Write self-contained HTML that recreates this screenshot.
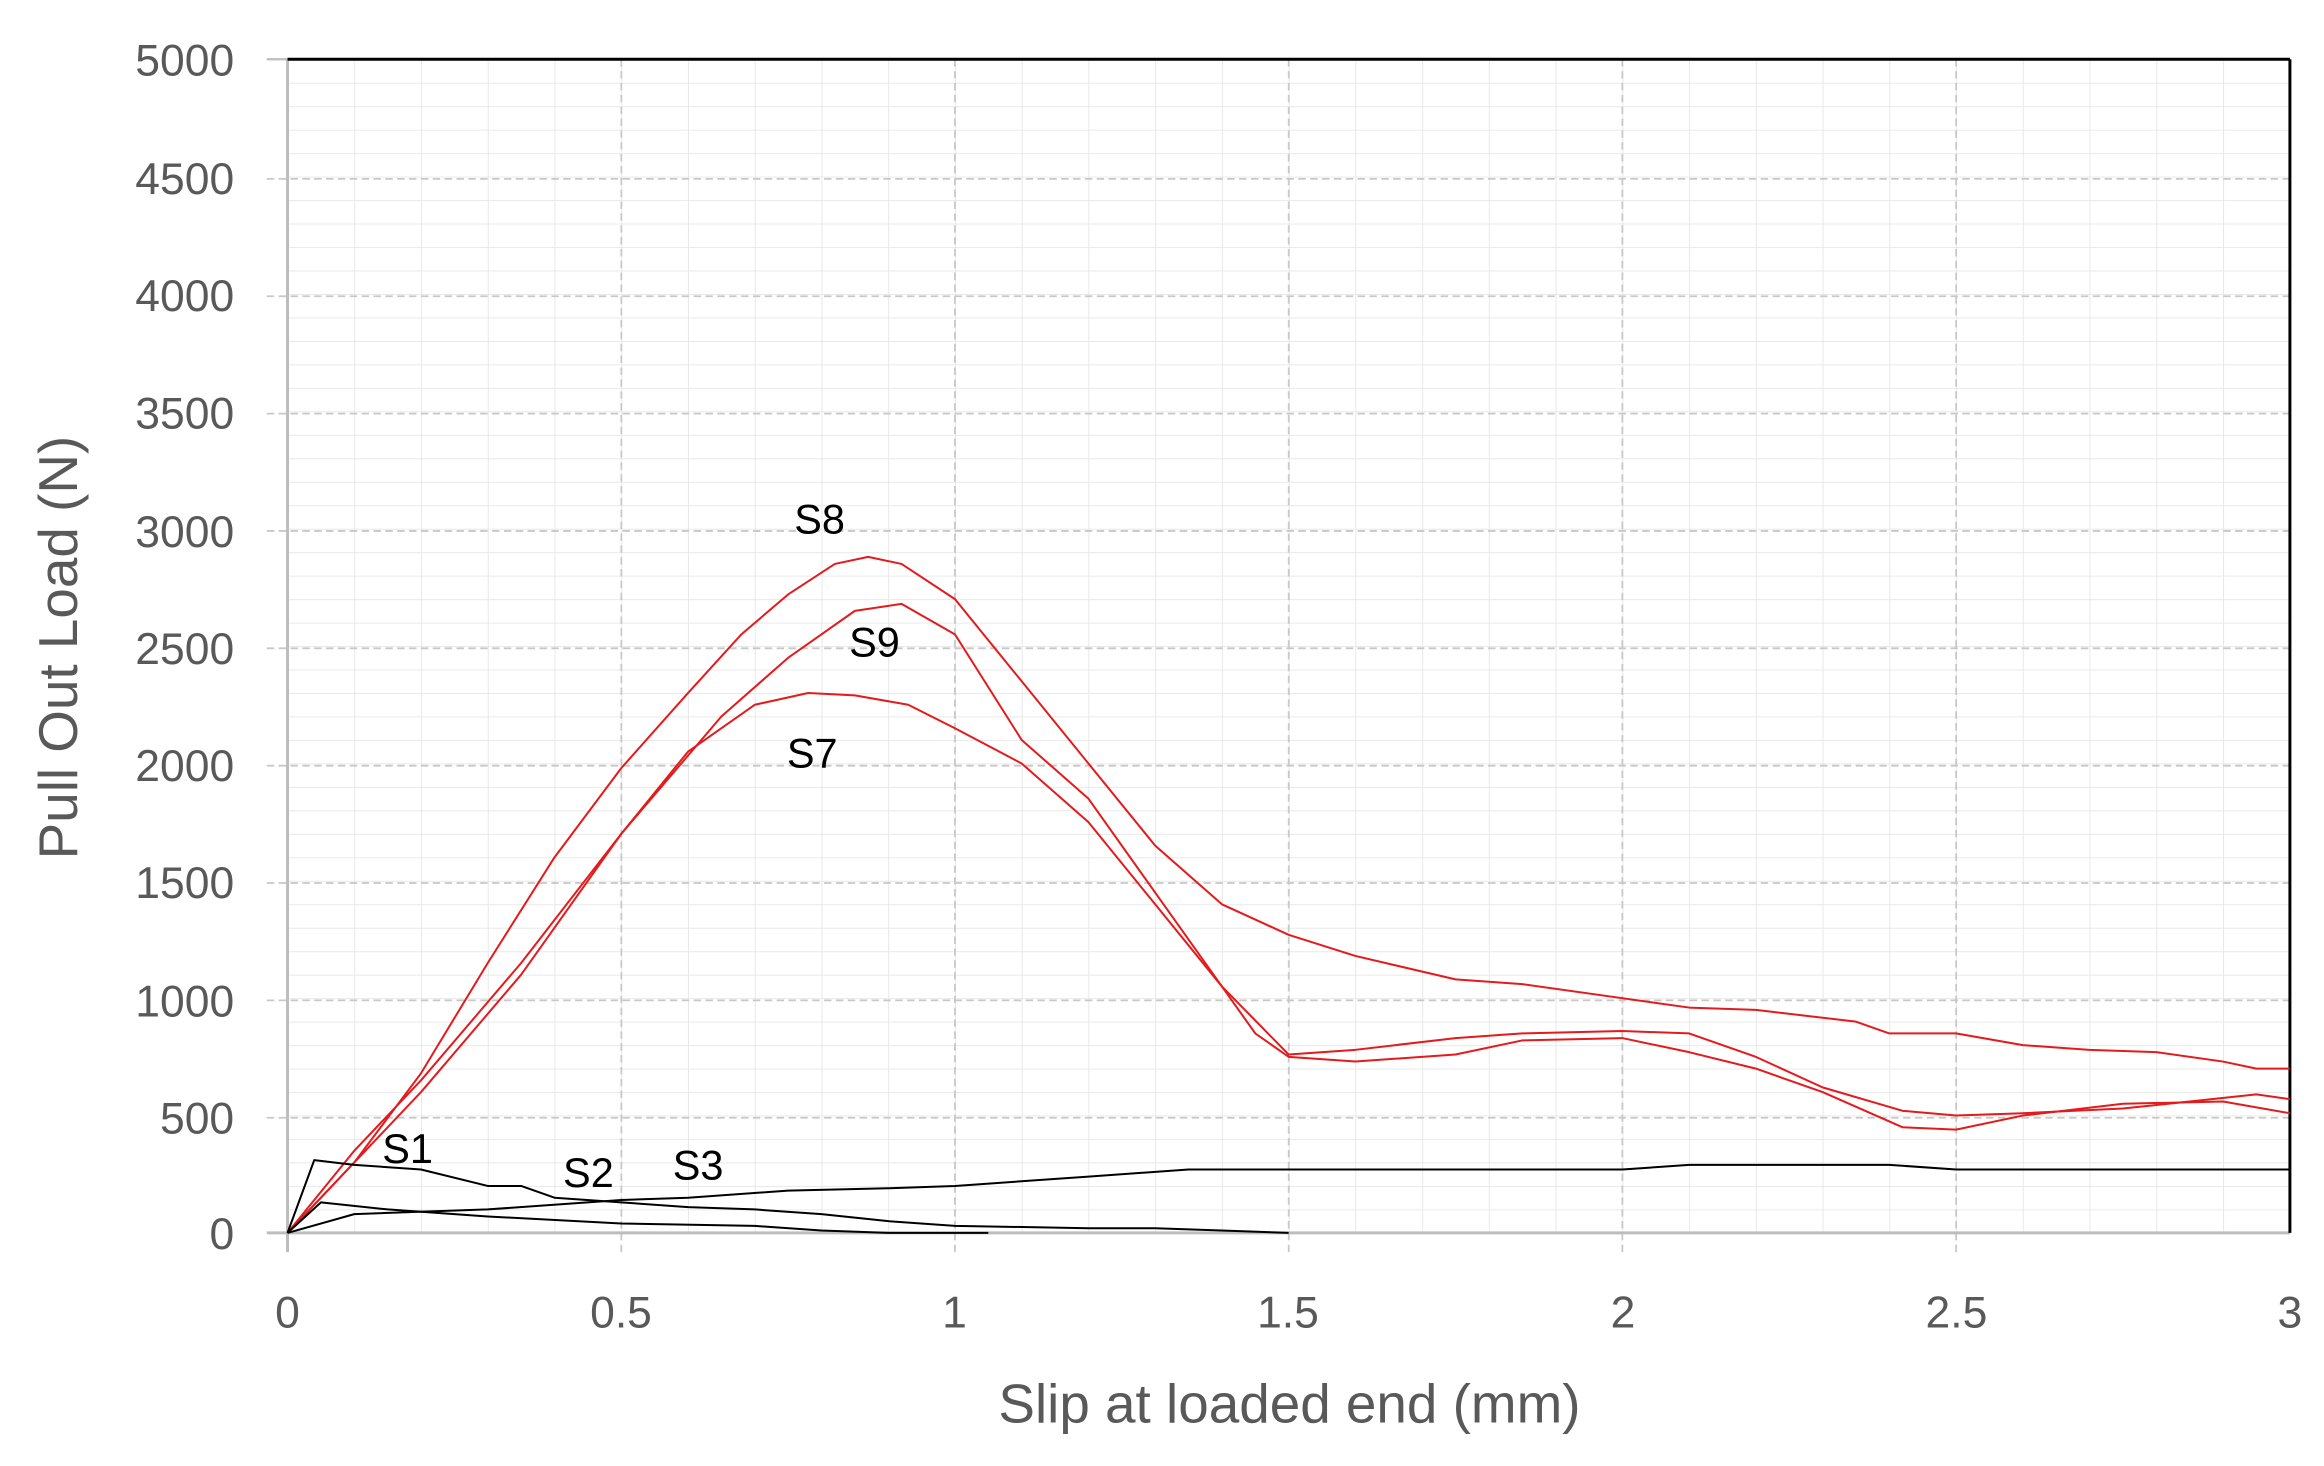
<!DOCTYPE html>
<html><head><style>html,body{margin:0;padding:0;background:#fff}svg{display:block}</style></head>
<body>
<svg width="2324" height="1466" viewBox="0 0 1568 989.3" preserveAspectRatio="none" xmlns="http://www.w3.org/2000/svg" font-family="'Liberation Sans', sans-serif">
<defs>
<pattern id="mg" x="194" y="40" width="45.03" height="15.84" patternUnits="userSpaceOnUse">
<path d="M0 0 V15.84 M0 0 H45.03" stroke="#e6e6e6" stroke-width="1.2" fill="none"/>
</pattern>
</defs>
<rect x="194" y="40" width="1351" height="792" fill="url(#mg)"/>
<g stroke="#c8c8c8" stroke-width="1.2" stroke-dasharray="5,3">
<line x1="180" x2="1545" y1="120.7" y2="120.7"/><line x1="180" x2="1545" y1="199.9" y2="199.9"/>
<line x1="180" x2="1545" y1="279.1" y2="279.1"/><line x1="180" x2="1545" y1="358.3" y2="358.3"/>
<line x1="180" x2="1545" y1="437.5" y2="437.5"/><line x1="180" x2="1545" y1="516.7" y2="516.7"/>
<line x1="180" x2="1545" y1="595.9" y2="595.9"/><line x1="180" x2="1545" y1="675.1" y2="675.1"/>
<line x1="180" x2="1545" y1="754.3" y2="754.3"/>
<line x1="419.2" x2="419.2" y1="40" y2="845"/><line x1="644.3" x2="644.3" y1="40" y2="845"/>
<line x1="869.5" x2="869.5" y1="40" y2="845"/><line x1="1094.6" x2="1094.6" y1="40" y2="845"/>
<line x1="1319.8" x2="1319.8" y1="40" y2="845"/>
</g>
<line x1="180" x2="1545" y1="832" y2="832" stroke="#bdbdbd" stroke-width="2"/>
<line x1="194" x2="194" y1="40" y2="845" stroke="#bdbdbd" stroke-width="2"/>
<line x1="180" x2="194" y1="40" y2="40" stroke="#bdbdbd" stroke-width="1.5"/>
<line x1="194" x2="1545" y1="40" y2="40" stroke="#000" stroke-width="2"/>
<line x1="1545" x2="1545" y1="40" y2="832" stroke="#000" stroke-width="2"/>
<g transform="translate(194,832) scale(450.3,-0.1584)" fill="none" stroke-linejoin="round">
<g stroke="#e41a1c" stroke-width="2">
<polyline vector-effect="non-scaling-stroke" points="0,0 0.1,300 0.2,680 0.3,1150 0.4,1600 0.5,1980 0.6,2300 0.68,2550 0.75,2720 0.82,2850 0.87,2880 0.92,2850 1.0,2700 1.1,2350 1.2,2000 1.3,1650 1.4,1400 1.5,1270 1.6,1180 1.75,1080 1.85,1060 2.0,1000 2.1,960 2.2,950 2.35,900 2.4,850 2.5,850 2.6,800 2.7,780 2.8,770 2.9,730 2.95,700 3.0,700"/>
<polyline vector-effect="non-scaling-stroke" points="0,0 0.1,300 0.2,600 0.35,1100 0.5,1700 0.65,2200 0.75,2450 0.85,2650 0.92,2680 1.0,2550 1.1,2100 1.2,1850 1.3,1450 1.4,1050 1.45,850 1.5,750 1.6,730 1.75,760 1.85,820 2.0,830 2.1,770 2.2,700 2.3,600 2.42,450 2.5,440 2.6,500 2.75,550 2.9,560 3.0,510"/>
<polyline vector-effect="non-scaling-stroke" points="0,0 0.1,350 0.2,650 0.35,1150 0.5,1700 0.6,2050 0.7,2250 0.78,2300 0.85,2290 0.93,2250 1.0,2150 1.1,2000 1.2,1750 1.3,1400 1.4,1050 1.5,760 1.6,780 1.75,830 1.85,850 2.0,860 2.1,850 2.2,750 2.3,620 2.42,520 2.5,500 2.6,510 2.75,530 2.85,560 2.95,590 3.0,570"/>
</g>
<g stroke="#000" stroke-width="2">
<polyline vector-effect="non-scaling-stroke" points="0,0 0.04,310 0.1,290 0.2,270 0.3,200 0.35,200 0.4,150 0.5,130 0.6,110 0.7,100 0.8,80 0.9,50 1.0,30 1.2,20 1.3,20 1.4,10 1.5,0"/>
<polyline vector-effect="non-scaling-stroke" points="0,0 0.05,130 0.15,100 0.3,70 0.5,40 0.7,30 0.8,10 0.9,0 1.05,0"/>
<polyline vector-effect="non-scaling-stroke" points="0,0 0.1,80 0.3,100 0.5,140 0.6,150 0.75,180 0.9,190 1.0,200 1.2,240 1.35,270 2.0,270 2.1,290 2.4,290 2.5,270 3.0,270"/>
</g>
</g>
<g fill="#595959" font-size="30" text-anchor="end">
<text x="158" y="51">5000</text><text x="158" y="131">4500</text><text x="158" y="210">4000</text>
<text x="158" y="289">3500</text><text x="158" y="369">3000</text><text x="158" y="448">2500</text>
<text x="158" y="527">2000</text><text x="158" y="606">1500</text><text x="158" y="686">1000</text>
<text x="158" y="765">500</text><text x="158" y="843">0</text>
</g>
<g fill="#595959" font-size="30" text-anchor="middle">
<text x="194" y="896">0</text><text x="419" y="896">0.5</text><text x="644" y="896">1</text>
<text x="869" y="896">1.5</text><text x="1095" y="896">2</text><text x="1320" y="896">2.5</text><text x="1545" y="896">3</text>
<text x="870" y="960" font-size="37">Slip at loaded end (mm)</text>
<text transform="translate(52,437) rotate(-90)" font-size="37">Pull Out Load (N)</text>
</g>
<g fill="#000" font-size="28" text-anchor="middle">
<text x="553" y="360">S8</text><text x="590" y="443">S9</text><text x="548" y="518">S7</text>
<text x="275" y="785">S1</text><text x="397" y="801">S2</text><text x="471" y="796">S3</text>
</g>
</svg>
</body></html>
